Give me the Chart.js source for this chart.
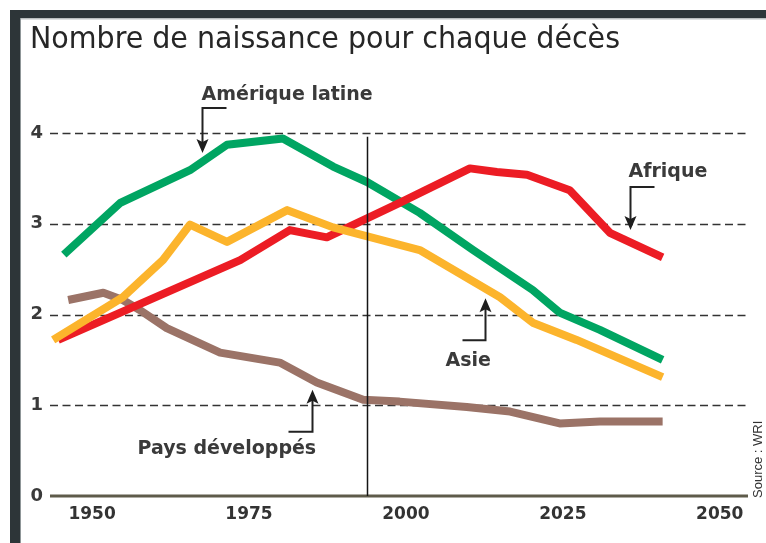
<!DOCTYPE html>
<html><head><meta charset="utf-8">
<script src="https://cdn.jsdelivr.net/npm/chart.js@4"></script>
<style>html,body{margin:0;padding:0;background:#fff}canvas{display:block}</style>
</head><body>
<canvas id="c" width="766" height="543"></canvas>
<script>
// ---- texts ----
const titleText = "Nombre de naissance pour chaque décès";
const sourceText = "Source : WRI";
const xTickYears = [1950, 1975, 2000, 2025, 2050];
const yTickValues = [0, 1, 2, 3, 4];

// ---- series (year, births per death) ----
const asiaYears   = [1943.8, 1954.9, 1961.3, 1965.6, 1971.5, 1981.1, 1988.4, 2002.2, 2015.0, 2020.2, 2027.2, 2040.9];
const asiaValues  = [1.72, 2.19, 2.60, 2.99, 2.80, 3.15, 2.96, 2.71, 2.19, 1.91, 1.72, 1.31];

const africaYears  = [1944.6, 1973.6, 1981.5, 1987.4, 1993.8, 1999.0, 2010.2, 2014.5, 2019.3, 2026.1, 2032.5, 2040.9];
const africaValues = [1.72, 2.60, 2.93, 2.85, 3.06, 3.23, 3.61, 3.57, 3.54, 3.37, 2.90, 2.63];

const latinYears  = [1945.5, 1954.5, 1965.6, 1971.5, 1980.4, 1988.4, 1993.8, 2002.2, 2010.7, 2020.2, 2024.5, 2030.9, 2040.9];
const latinValues = [2.66, 3.23, 3.59, 3.87, 3.94, 3.63, 3.46, 3.12, 2.71, 2.27, 2.02, 1.83, 1.50];

const devYears  = [1946.2, 1951.8, 1954.9, 1957.6, 1961.9, 1970.4, 1979.9, 1985.8, 1993.2, 1999.0, 2009.7, 2016.6, 2024.5, 2030.9, 2040.9];
const devValues = [2.16, 2.24, 2.16, 2.05, 1.85, 1.58, 1.47, 1.25, 1.06, 1.04, 0.98, 0.93, 0.80, 0.82, 0.82];

// marker line for "today"
const todayYear = 1993.8;
const todayTop = 3.96;

// labels with arrows (tip in data units)
const annotations = [
  {text: "Amérique latine", year: 1967.5, value: 3.78, dir: "down", stem: 45, elbow: 24, dx: -1, dy: -53},
  {text: "Afrique",         year: 2035.7, value: 2.93, dir: "down", stem: 43, elbow: 24, dx: -2, dy: -53},
  {text: "Asie",            year: 2012.6, value: 2.18, dir: "up",   stem: 42, elbow: -23, dx: -40, dy: 68},
  {text: "Pays développés", year: 1985.0, value: 1.17, dir: "up",   stem: 42, elbow: -24, dx: -175, dy: 64}
];

const pts = (xs, ys) => xs.map((x, i) => ({x: x, y: ys[i]}));

const framePlugin = {
  id: 'frame',
  beforeDraw(chart) {
    const ctx = chart.ctx;
    ctx.save();
    ctx.fillStyle = '#ffffff';
    ctx.fillRect(0, 0, chart.width, chart.height);
    ctx.fillStyle = '#2d3538';
    ctx.fillRect(10, 10, chart.width - 10, 8);
    ctx.fillRect(10, 10, 10, chart.height - 10);
    ctx.fillStyle = '#b9bdbe';
    ctx.fillRect(20, 18, chart.width - 20, 1.5);
    ctx.fillStyle = '#8f9698';
    ctx.fillRect(20, 18, 1, chart.height - 18);
    // title
    ctx.fillStyle = '#262626';
    ctx.font = '31px "Liberation Sans Narrow", "DejaVu Sans Condensed", sans-serif';
    ctx.textBaseline = 'alphabetic';
    const w = ctx.measureText(titleText).width;
    ctx.translate(30, 48);
    ctx.scale(590 / w, 1);
    ctx.fillText(titleText, 0, 0);
    ctx.restore();
  },
  beforeDatasetsDraw(chart) {
    const ctx = chart.ctx, a = chart.chartArea, ys = chart.scales.y;
    ctx.save();
    ctx.strokeStyle = '#333333';
    ctx.lineWidth = 1.6;
    ctx.setLineDash([8, 4.5]);
    yTickValues.forEach(v => {
      if (v === 0) return;
      const y = Math.round(ys.getPixelForValue(v)) + 0.5;
      ctx.beginPath(); ctx.moveTo(a.left, y); ctx.lineTo(a.right, y); ctx.stroke();
    });
    ctx.setLineDash([]);
    ctx.strokeStyle = '#5e5b4a';
    ctx.lineWidth = 3;
    const y0 = ys.getPixelForValue(0);
    ctx.beginPath(); ctx.moveTo(a.left, y0); ctx.lineTo(a.right, y0); ctx.stroke();
    ctx.restore();
  },
  afterDatasetsDraw(chart) {
    const ctx = chart.ctx, xs = chart.scales.x, ys = chart.scales.y;
    ctx.save();
    // today line
    const tx = Math.round(xs.getPixelForValue(todayYear)) + 0.5;
    ctx.strokeStyle = '#151515';
    ctx.lineWidth = 1.5;
    ctx.beginPath(); ctx.moveTo(tx, ys.getPixelForValue(todayTop)); ctx.lineTo(tx, ys.getPixelForValue(0)); ctx.stroke();
    // annotations
    annotations.forEach(an => {
      const px = Math.round(xs.getPixelForValue(an.year)) + 0.5;
      const py = ys.getPixelForValue(an.value);
      const s = an.dir === 'down' ? -1 : 1; // stem goes up from tip for down-arrow
      const stemEnd = py + s * an.stem;
      ctx.strokeStyle = '#222';
      ctx.lineWidth = 2;
      ctx.beginPath();
      ctx.moveTo(px + an.elbow, stemEnd);
      ctx.lineTo(px, stemEnd);
      ctx.lineTo(px, py + s * 10);
      ctx.stroke();
      ctx.fillStyle = '#1e1e1e';
      ctx.beginPath();
      ctx.moveTo(px, py);
      ctx.lineTo(px - 6, py + s * 14);
      ctx.lineTo(px, py + s * 11);
      ctx.lineTo(px + 6, py + s * 14);
      ctx.closePath();
      ctx.fill();
      ctx.fillStyle = '#3a3a3a';
      ctx.font = 'bold 19px "DejaVu Sans", sans-serif';
      ctx.textBaseline = 'alphabetic';
      ctx.textAlign = 'left';
      ctx.fillText(an.text, px + an.dx, py + an.dy);
    });
    // source
    ctx.translate(762, 498);
    ctx.rotate(-Math.PI / 2);
    ctx.fillStyle = '#333';
    ctx.font = '13px "Liberation Sans", sans-serif';
    ctx.textBaseline = 'alphabetic';
    ctx.fillText(sourceText, 0, 0);
    ctx.restore();
  }
};

const lineStyle = (color) => ({
  borderColor: color, backgroundColor: color, borderWidth: 8,
  pointRadius: 0, pointHoverRadius: 0, tension: 0, fill: false,
  borderJoinStyle: 'round', borderCapStyle: 'butt', clip: false
});

new Chart(document.getElementById('c'), {
  type: 'line',
  data: {
    datasets: [
      Object.assign({label: 'Asie', data: pts(asiaYears, asiaValues)}, lineStyle('#fcb42c')),
      Object.assign({label: 'Afrique', data: pts(africaYears, africaValues)}, lineStyle('#ec1c24')),
      Object.assign({label: 'Amérique latine', data: pts(latinYears, latinValues)}, lineStyle('#00a562')),
      Object.assign({label: 'Pays développés', data: pts(devYears, devValues)}, lineStyle('#9b7367'))
    ]
  },
  options: {
    responsive: false,
    animation: false,
    events: [],
    layout: {padding: {left: 20, right: 18, top: 133, bottom: 0}},
    plugins: {legend: {display: false}, tooltip: {enabled: false}, title: {display: false}},
    scales: {
      x: {
        type: 'linear', min: 1943.3, max: 2054.5,
        afterBuildTicks: s => { s.ticks = xTickYears.map(v => ({value: v})); },
        afterFit: s => { s.height = 47; },
        grid: {display: false, drawTicks: false},
        border: {display: false},
        ticks: {
          padding: 8, color: '#333', maxRotation: 0, autoSkip: false,
          font: {family: '"DejaVu Sans", sans-serif', size: 17, weight: 'bold'},
          callback: v => String(v)
        }
      },
      y: {
        type: 'linear', min: 0, max: 4,
        afterBuildTicks: s => { s.ticks = yTickValues.map(v => ({value: v})); },
        afterFit: s => { s.width = 30; },
        grid: {display: false, drawTicks: false},
        border: {display: false},
        ticks: {
          padding: 7, color: '#3a3a3a',
          font: {family: '"DejaVu Sans", sans-serif', size: 18, weight: 'bold'},
          callback: v => String(v)
        }
      }
    }
  },
  plugins: [framePlugin]
});
</script>
</body></html>
